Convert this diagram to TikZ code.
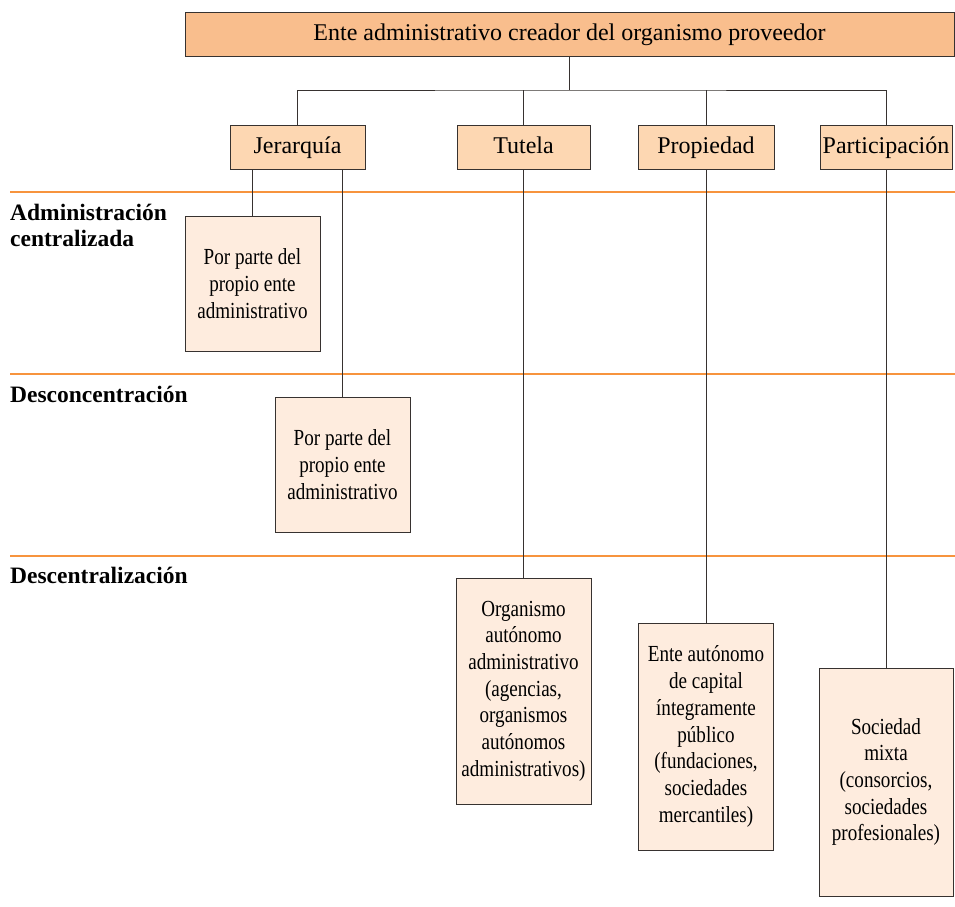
\documentclass[tikz,border=0pt]{standalone}
\usepackage{fontspec}
\setmainfont{Liberation Serif}
\newfontfamily\narrowserif{Liberation Serif}[FakeStretch=0.83]

\definecolor{topfill}{RGB}{249,190,141}
\definecolor{lvlfill}{RGB}{253,215,178}
\definecolor{leaffill}{RGB}{254,236,222}
\definecolor{rulecolor}{RGB}{247,148,62}
\definecolor{lineclr}{RGB}{55,50,48}

\begin{document}
\begin{tikzpicture}[x=1pt,y=-1pt,
  box/.style={draw=lineclr, line width=1pt, rectangle, inner sep=0pt, align=center},
  headbox/.style={box, fill=topfill, minimum width=769pt, minimum height=44pt,
    text height=17pt, text depth=5pt, font=\fontsize{24}{28}\selectfont},
  lvlbox/.style={box, fill=lvlfill, minimum height=44pt,
    text height=17pt, text depth=5pt, font=\fontsize{24}{28}\selectfont},
  leaf/.style={box, fill=leaffill, minimum width=135pt,
    font=\narrowserif\fontsize{23}{26.7}\selectfont},
  band/.style={draw=rulecolor, line width=1.2pt},
  zone/.style={font=\bfseries\fontsize{23.5}{26}\selectfont, anchor=north west,
    inner sep=0pt, align=left},
  link/.style={draw=lineclr, line width=1pt}]
\useasboundingbox (0,0) rectangle (955,906);

% horizontal bands separating the three forms of administration
\draw[band] (10,192) -- (955,192);
\draw[band] (10,374) -- (955,374);
\draw[band] (10,556) -- (955,556);

% band titles
\node[zone] (zcen) at (10,203.5) {Administración\\centralizada};
\node[zone] (zdes) at (10,385.5) {Desconcentración};
\node[zone] (zdesc) at (10,566.5) {Descentralización};

% creator entity and the four kinds of relationship
\node[headbox] (head) at (569.5,34) {Ente administrativo creador del organismo proveedor};
\node[lvlbox, minimum width=135pt] (jer) at (297.5,147) {Jerarquía};
\node[lvlbox, minimum width=133pt] (tut) at (523.5,147) {Tutela};
\node[lvlbox, minimum width=136pt] (prop) at (706,147) {Propiedad};
\node[lvlbox, minimum width=132pt] (part) at (886,147) {Participación};

% resulting providers
\node[leaf, minimum height=135pt] (cen) at (252.5,283.5)
  {Por parte del\\propio ente\\administrativo};
\node[leaf, minimum height=135pt] (desc) at (342.5,464.5)
  {Por parte del\\propio ente\\administrativo};
\node[leaf, minimum height=226pt] (org) at (523.5,691)
  {Organismo\\autónomo\\administrativo\\(agencias,\\organismos\\autónomos\\administrativos)};
\node[leaf, minimum height=227pt] (ent) at (706,736.5)
  {Ente autónomo\\de capital\\íntegramente\\público\\(fundaciones,\\sociedades\\mercantiles)};
\node[leaf, minimum height=228pt, minimum width=134pt] (soc) at (886,782)
  {Sociedad\\mixta\\(consorcios,\\sociedades\\profesionales)};

% connectors
\coordinate (bus) at (569.5,90);
\draw[link] (head.south) -- (bus);
\draw[link] (jer.north) |- (bus) -| (part.north);
\draw[link] (tut.north) -- (tut.north |- bus);
\draw[link] (prop.north) -- (prop.north |- bus);
\draw[link] (cen.north) -- (cen.north |- jer.south);
\draw[link] (desc.north) -- (desc.north |- jer.south);
\draw[link] (tut.south) -- (org.north);
\draw[link] (prop.south) -- (ent.north);
\draw[link] (part.south) -- (soc.north);
\end{tikzpicture}
\end{document}
